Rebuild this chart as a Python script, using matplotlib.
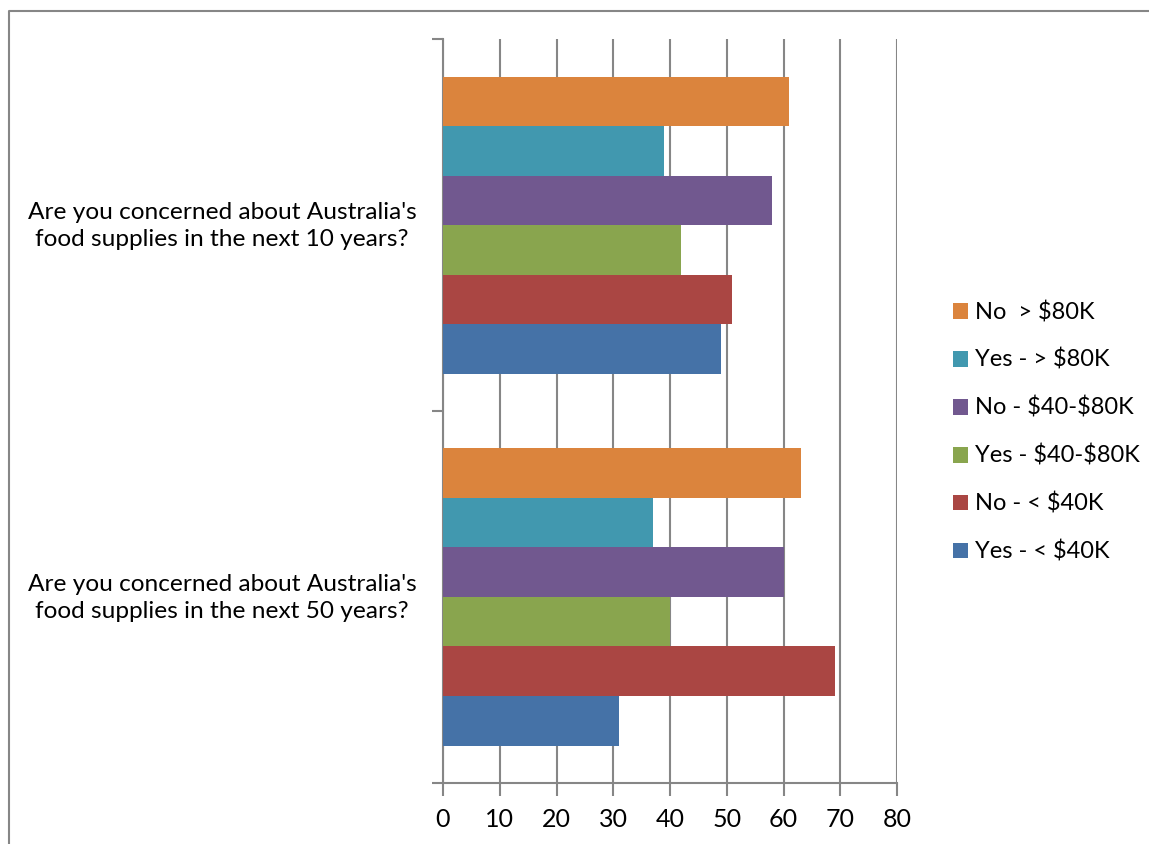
import matplotlib
matplotlib.use("Agg")
import matplotlib.pyplot as plt
import numpy as np
from matplotlib.patches import Patch
from matplotlib.lines import Line2D

plt.rcParams['font.family'] = ['Lato', 'DejaVu Sans']
plt.rcParams['text.parse_math'] = False

# Survey questions (bottom to top as drawn)
categories = [
    "Are you concerned about Australia's\nfood supplies in the next 50 years?",
    "Are you concerned about Australia's\nfood supplies in the next 10 years?",
]

# Series in plotting order (bottom bar of each group first)
series_names = [
    "Yes - < $40K",
    "No - < $40K",
    "Yes - $40-$80K",
    "No - $40-$80K",
    "Yes - > $80K",
    "No  > $80K",
]
yes_under_40k = [31, 49]
no_under_40k = [69, 51]
yes_40_80k = [40, 42]
no_40_80k = [60, 58]
yes_over_80k = [37, 39]
no_over_80k = [63, 61]
series_values = [yes_under_40k, no_under_40k, yes_40_80k,
                 no_40_80k, yes_over_80k, no_over_80k]

colors = ["#4572A7", "#AA4643", "#89A54E", "#71588F", "#4198AF", "#DB843D"]
x_ticks = [0, 10, 20, 30, 40, 50, 60, 70, 80]

grey = "#868686"
W, H = 1149, 844
fig = plt.figure(figsize=(W / 100, H / 100), dpi=100)

ax_left, ax_right = 443, 897
ax_top, ax_bottom = 39.5, 782.7
ax = fig.add_axes([ax_left / W, 1 - ax_bottom / H,
                   (ax_right - ax_left) / W, (ax_bottom - ax_top) / H])

n = len(series_names)
bar_h = 0.8 / n
y = np.arange(len(categories))
for i, (name, vals, c) in enumerate(zip(series_names, series_values, colors)):
    ax.barh(y + (i - (n - 1) / 2) * bar_h, vals, height=bar_h, color=c,
            label=name, zorder=3)

ax.set_xlim(0, 80)
ax.set_ylim(-0.5, len(categories) - 0.5)
ax.set_xticks(x_ticks)
ax.set_xticklabels([str(t) for t in x_ticks])
ax.xaxis.grid(True, color=grey, linewidth=1.5, zorder=0)
ax.set_axisbelow(True)

# Category boundaries carry the tick marks; labels sit at category centres
ax.set_yticks(np.arange(-0.5, len(categories), 1.0))
ax.set_yticklabels([])
ax.set_yticks(y + 0.011, minor=True)
ax.set_yticklabels(categories, minor=True, ha='center', fontsize=17.6,
                   color='black', linespacing=1.35)
ax.tick_params(axis='y', which='minor', length=0, pad=159)
ax.tick_params(axis='y', which='major', length=8, width=1.5, color=grey,
               direction='out')
ax.tick_params(axis='x', length=9, width=1.5, color=grey, direction='out',
               labelsize=18, pad=9)

for s in ['top', 'right']:
    ax.spines[s].set_visible(False)
for s in ['left', 'bottom']:
    ax.spines[s].set_color(grey)
    ax.spines[s].set_linewidth(1.5)

# Legend, top entry first
handles = [Patch(facecolor=c, edgecolor='none') for c in colors][::-1]
labels = series_names[::-1]
fig.legend(handles, labels, loc='upper left',
           bbox_to_anchor=(953 / W, 1 - 301 / H),
           frameon=False, fontsize=17, handlelength=0.65, handleheight=0.65,
           handletextpad=0.3, labelspacing=1.10, borderpad=0, borderaxespad=0)

# Chart area outline (top and left edges)
fig.add_artist(Line2D([8.5 / W, 8.5 / W, 1.0], [0.0, 1 - 10.5 / H, 1 - 10.5 / H],
                      transform=fig.transFigure, color=grey, linewidth=1.5))

fig.savefig("out.png", dpi=100)
